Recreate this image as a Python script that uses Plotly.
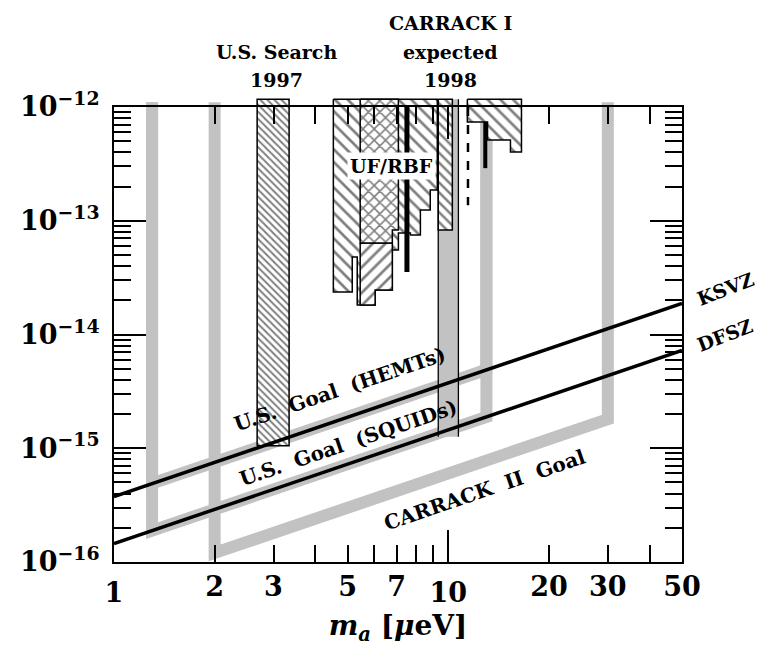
import math
import plotly.graph_objects as go

FONT = "DejaVu Serif"
GOAL_GRAY = "#c2c2c2"

# ---- axion model bands (coupling vs. mass, both scale linearly with m_a) ----
model_mass = [1, 50]
ksvz = [3.75e-16, 1.875e-14]
dfsz = [1.45e-16, 7.25e-15]

# ---- search goals (thick gray outlines) ----
hemt_mass = [1.3, 1.3, 13.0, 13.0]
hemt_g = [1.1e-12, 4.9e-16, 4.9e-15, 1.1e-12]
squid_mass = [1.3, 1.3, 13.0, 13.0]
squid_g = [1.1e-12, 1.885e-16, 1.885e-15, 1.1e-12]
carrack2_mass = [2.0, 2.0, 30.0, 30.0]
carrack2_g = [1.1e-12, 1.2e-16, 1.8e-15, 1.1e-12]

# ---- excluded / expected regions ----
us1997_mass = [2.68, 3.34]
us1997_g = [1.05e-15, 1.17e-12]

carrack1_mass = [9.33, 10.72]
carrack1_g = [1.26e-15, 1.17e-12]

# UF/RBF exclusion: step outline (mass edges, lower limit per step)
ufrbf_edges = [4.53, 5.16, 5.34, 6.04, 6.80, 7.09, 7.70, 8.25, 8.83, 9.27]
ufrbf_low = [2.36e-14, 4.80e-14, 1.82e-14, 2.46e-14, 5.53e-14, 7.80e-14,
             7.50e-14, 1.243e-13, 1.864e-13]
ufrbf_cross_edges = [5.45, 6.80, 7.09]
ufrbf_cross_low = [6.37e-14, 8.29e-14]
ufrbf_slash_edges = [5.45, 6.04, 6.80]
ufrbf_slash_low = [1.82e-14, 2.46e-14]
ufrbf_slash_high = 6.37e-14
ufrbf_bar_mass = [7.52, 7.52]
ufrbf_bar_g = [1e-12, 3.54e-14]
ufrbf_inner_edges = [9.33, 10.28]
ufrbf_inner_low = [8.29e-14]
ufrbf_right_edges = [11.4, 13.1, 15.34, 16.55]
ufrbf_right_low = [7.38e-13, 5.13e-13, 4.02e-13]
ufrbf_line1_mass = [11.45, 11.45]
ufrbf_line1_g = [1e-12, 1.37e-13]
ufrbf_line2_mass = [12.9, 12.9]
ufrbf_line2_g = [7.38e-13, 2.9e-13]

TOP = 1.17e-12

x_major = [1, 10]
x_minor = [2, 3, 4, 5, 6, 7, 8, 9, 20, 30, 40]
x_labels = [2, 3, 5, 7, 20, 30, 50]
y_major = [1e-16, 1e-15, 1e-14, 1e-13, 1e-12]
y_major_text = ["10<sup>\u221216</sup>", "10<sup>\u221215</sup>", "10<sup>\u221214</sup>",
                "10<sup>\u221213</sup>", "10<sup>\u221212</sup>"]
y_minor = [k * 10.0 ** e for e in range(-16, -12) for k in range(2, 10)]


def steps(edges, lows, top):
    xs, ys = [edges[0]], [top]
    for i, lo in enumerate(lows):
        xs += [edges[i], edges[i + 1]]
        ys += [lo, lo]
    xs += [edges[-1], edges[0]]
    ys += [top, top]
    return xs, ys


def rect(xr, yr):
    return [xr[0], xr[1], xr[1], xr[0], xr[0]], [yr[0], yr[0], yr[1], yr[1], yr[0]]


def hatched(xs, ys, shape, size, solidity, lw=1.5):
    return go.Scatter(x=xs, y=ys, mode="lines", fill="toself", fillcolor="white",
                      fillpattern=dict(shape=shape, size=size, solidity=solidity,
                                       fgcolor="black", bgcolor="white"),
                      line=dict(color="black", width=lw), hoverinfo="skip")


fig = go.Figure()

# gray goal outlines
for gx, gy in [(hemt_mass, hemt_g), (squid_mass, squid_g), (carrack2_mass, carrack2_g)]:
    fig.add_trace(go.Scatter(x=gx, y=gy, mode="lines",
                             line=dict(color=GOAL_GRAY, width=12), hoverinfo="skip"))

# U.S. search 1997
xs, ys = rect(us1997_mass, us1997_g)
fig.add_trace(hatched(xs, ys, "\\", 5, 0.4))

# UF/RBF
xs, ys = steps(ufrbf_edges, ufrbf_low, TOP)
fig.add_trace(hatched(xs, ys, "\\", 9, 0.3))
xs, ys = steps(ufrbf_slash_edges, ufrbf_slash_low, ufrbf_slash_high)
fig.add_trace(hatched(xs, ys, "/", 9, 0.3))
xs, ys = steps(ufrbf_cross_edges, ufrbf_cross_low, TOP)
fig.add_trace(hatched(xs, ys, "x", 8, 0.35))
fig.add_trace(go.Scatter(x=ufrbf_bar_mass, y=ufrbf_bar_g, mode="lines",
                         line=dict(color="black", width=5), hoverinfo="skip"))

# CARRACK I expected band
xs, ys = rect(carrack1_mass, carrack1_g)
fig.add_trace(go.Scatter(x=xs, y=ys, mode="lines", fill="toself", fillcolor=GOAL_GRAY,
                         line=dict(color="rgba(0,0,0,0)", width=0), hoverinfo="skip"))
xs, ys = steps(ufrbf_inner_edges, ufrbf_inner_low, TOP)
fig.add_trace(hatched(xs, ys, "\\", 7, 0.35))
for m in carrack1_mass:
    fig.add_trace(go.Scatter(x=[m, m], y=carrack1_g, mode="lines",
                             line=dict(color="black", width=1.3), hoverinfo="skip"))

xs, ys = steps(ufrbf_right_edges, ufrbf_right_low, TOP)
fig.add_trace(hatched(xs, ys, "\\", 9, 0.3))
fig.add_trace(go.Scatter(x=ufrbf_line1_mass, y=ufrbf_line1_g, mode="lines",
                         line=dict(color="black", width=2.5, dash="dash"), hoverinfo="skip"))
fig.add_trace(go.Scatter(x=ufrbf_line2_mass, y=ufrbf_line2_g, mode="lines",
                         line=dict(color="black", width=4), hoverinfo="skip"))

# model lines
for g in (ksvz, dfsz):
    fig.add_trace(go.Scatter(x=model_mass, y=g, mode="lines",
                             line=dict(color="black", width=3.5), hoverinfo="skip"))

# text labels
slope_deg = -math.degrees(math.atan(113.75 / 334.0))


def ann(x, y, text, size, angle=0, bold=True, bg=None, ref="y"):
    d = dict(x=math.log10(x), y=math.log10(y), xref="x", yref=ref, text=text,
             showarrow=False, textangle=angle,
             font=dict(family=FONT, size=size, color="black",
                       weight="bold" if bold else "normal"))
    if bg:
        d.update(bgcolor=bg, borderpad=2)
    return d


annotations = [
    ann(4.75, 3.3e-15, "U.S.  Goal  (HEMTs)", 20, slope_deg),
    ann(5.0, 1.12e-15, "U.S.  Goal  (SQUIDs)", 20, slope_deg),
    ann(12.8, 4.3e-16, "CARRACK  II  Goal", 20, slope_deg),
    ann(6.75, 3.0e-13, "UF/RBF", 19, 0, True, "white"),
]
fig.update_layout(annotations=annotations)

# labels outside the plotting area (paper coordinates)
W, H = 758, 660
L, R, T, B = 114, 76, 95, 98


def pann(px, py, text, size, angle=0, bold=True):
    fig.add_annotation(x=(px - L) / (W - L - R), y=1 - (py - T) / (H - T - B),
                       xref="paper", yref="paper", text=text, showarrow=False,
                       textangle=angle, xanchor="center", yanchor="middle",
                       font=dict(family=FONT, size=size, color="black",
                                 weight="bold" if bold else "normal"))


pann(276, 52, "U.S. Search", 19)
pann(276, 80, "1997", 19)
pann(450, 23, "CARRACK I", 19)
pann(450, 52, "expected", 19)
pann(450, 80, "1998", 19)
pann(725, 289, "KSVZ", 19, -21)
pann(725, 335, "DFSZ", 19, -21)

plot_h = H - T - B
frame_h = 455
dec_px = frame_h / 4.0

tick_font = dict(family=FONT, size=27, color="black", weight="bold")

fig.update_layout(
    width=W, height=H, margin=dict(l=L, r=R, t=T, b=B),
    paper_bgcolor="white", plot_bgcolor="rgba(0,0,0,0)", showlegend=False,
    xaxis=dict(type="log", range=[0, math.log10(50)], domain=[0, 1], anchor="y2",
               showgrid=False, zeroline=False, showline=True, linecolor="black",
               linewidth=2, mirror="ticks", ticks="inside", ticklen=32, tickwidth=2,
               tickcolor="black", tickmode="array", tickvals=x_major,
               ticktext=[str(v) for v in x_major], tickfont=tick_font,
               ticklabelstandoff=6,
               minor=dict(ticks="inside", ticklen=17, tickwidth=2, tickcolor="black",
                          tickmode="array", tickvals=x_minor, showgrid=False),
               title=dict(text="<i>m</i><sub><i>a</i></sub> [<i>\u03bc</i>eV]",
                          font=dict(family=FONT, size=28, color="black", weight="bold"),
                          standoff=8)),
    xaxis2=dict(type="log", range=[0, math.log10(50)], overlaying="x", anchor="y2",
                side="bottom", showgrid=False, zeroline=False, showline=False,
                ticks="", tickmode="array", tickvals=x_labels,
                ticktext=[str(v) for v in x_labels], tickfont=tick_font,
                ticklabelstandoff=6),
    yaxis=dict(type="log", domain=[0, 1], range=[-16, -16 + plot_h / dec_px],
               visible=False, anchor="x"),
    yaxis2=dict(type="log", domain=[0, frame_h / plot_h], range=[-16, -12], anchor="x",
                showgrid=False, zeroline=False, showline=True, linecolor="black",
                linewidth=2, mirror="ticks", ticks="inside", ticklen=32, tickwidth=2,
                tickcolor="black", tickmode="array", tickvals=y_major,
                ticktext=y_major_text, tickfont=tick_font, ticklabelstandoff=7,
                minor=dict(ticks="inside", ticklen=17, tickwidth=2, tickcolor="black",
                           tickmode="array", tickvals=y_minor, showgrid=False)),
)
# invisible markers registering the frame subplot and the label axis
fig.add_trace(go.Scatter(x=[1], y=[1e-14], xaxis="x", yaxis="y2", mode="markers",
                         marker=dict(opacity=0), hoverinfo="skip"))
fig.add_trace(go.Scatter(x=[1], y=[1e-14], xaxis="x2", yaxis="y2", mode="markers",
                         marker=dict(opacity=0), hoverinfo="skip"))

fig.write_html("out.html")
